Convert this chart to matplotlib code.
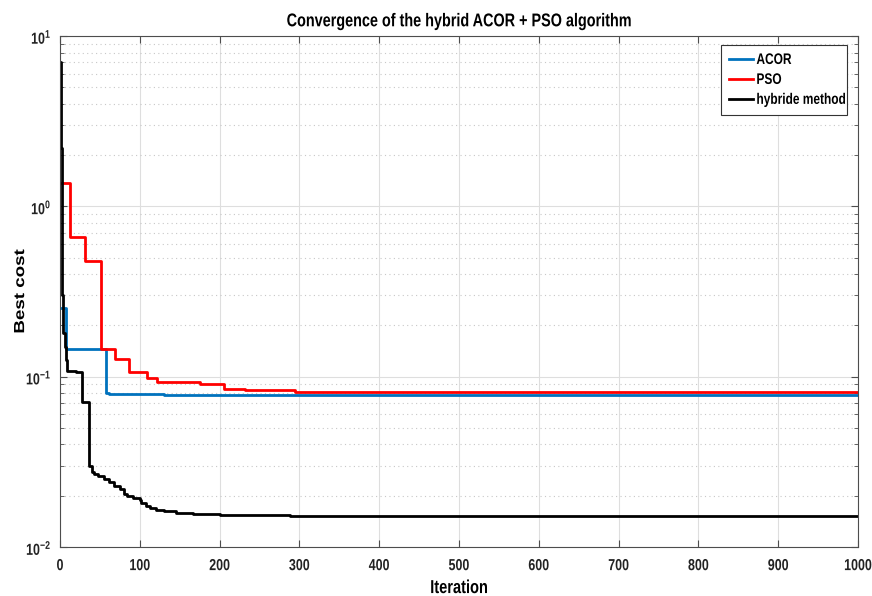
import matplotlib
matplotlib.use("Agg")
import matplotlib.pyplot as plt
from matplotlib.ticker import LogLocator, NullFormatter
from matplotlib.patheffects import AbstractPathEffect
from matplotlib.transforms import Affine2D
import numpy as np

# step-change points (iteration, best cost)
acor_iter = [0, 8, 58, 62, 70, 130, 1000]
acor_cost = [0.252, 0.146, 0.0807, 0.0795, 0.0788, 0.0785, 0.0785]

pso_iter = [0, 12, 31, 51, 69, 86, 109, 122, 175, 206, 232, 295, 1000]
pso_cost = [1.38, 0.66, 0.48, 0.146, 0.127, 0.106, 0.098, 0.093, 0.090, 0.0845, 0.0835, 0.0812, 0.0812]

hyb_iter = [0, 1, 2, 3, 4, 6, 8, 9, 20, 27, 36, 40, 42, 48, 55, 62, 68, 75, 80, 84, 92, 100, 102,
            108, 113, 120, 130, 145, 167, 200, 288, 1000]
hyb_cost = [7.0, 2.2, 0.6, 0.3, 0.18, 0.15, 0.126, 0.108, 0.106, 0.0714, 0.0297, 0.0275, 0.0268,
            0.0262, 0.0252, 0.0240, 0.0228, 0.0220, 0.0205, 0.0198, 0.0193, 0.0189, 0.0181,
            0.0175, 0.0169, 0.0165, 0.0162, 0.0159, 0.0156, 0.0154, 0.0153, 0.0152]

x_ticks = list(range(0, 1001, 100))

SQ = 0.78  # horizontal squash of text seen in the reference


class Squash(AbstractPathEffect):
    def __init__(self, fx=1.0, fy=1.0, anchor='center'):
        super().__init__()
        self.fx, self.fy, self.anchor = fx, fy, anchor

    def draw_path(self, renderer, gc, tpath, affine, rgbFace=None):
        ext = tpath.get_extents()
        if self.anchor == 'center':
            cx = (ext.x0 + ext.x1) / 2
        elif self.anchor == 'right':
            cx = ext.x1
        else:
            cx = 0.0
        t = Affine2D().translate(-cx, 0).scale(self.fx, self.fy).translate(cx, 0) + affine
        renderer.draw_path(gc, tpath, t, rgbFace)


plt.rcParams['font.family'] = ['Liberation Sans', 'DejaVu Sans']
plt.rcParams['mathtext.fontset'] = 'custom'
plt.rcParams['mathtext.rm'] = 'Liberation Sans:bold'
plt.rcParams['mathtext.it'] = 'Liberation Sans:bold'
plt.rcParams['mathtext.bf'] = 'Liberation Sans:bold'

fig = plt.figure(figsize=(8.72, 5.96), dpi=100)
ax = fig.add_axes([60/872, 1-547/596, (858-60)/872, (547-36)/596])

lw = 2.0
ax.plot(acor_iter, acor_cost, drawstyle='steps-post', color='#0072BD', lw=lw, label='ACOR')
ax.plot(pso_iter, pso_cost, drawstyle='steps-post', color='#FF0000', lw=lw, label='PSO')
ax.plot(hyb_iter, hyb_cost, drawstyle='steps-post', color='black', lw=lw, label='hybride method')

ax.set_yscale('log')
ax.set_xlim(0, 1000)
ax.set_ylim(1e-2, 1e1)
ax.set_xticks(x_ticks)
ax.yaxis.set_major_locator(LogLocator(base=10, numticks=10))
ax.yaxis.set_minor_locator(LogLocator(base=10, subs=np.arange(2, 10), numticks=20))
ax.yaxis.set_minor_formatter(NullFormatter())

ax.grid(True, which='major', color='#dedede', lw=0.8, ls='-')
ax.grid(True, which='minor', axis='y', color='#c8c8c8', lw=0.8, ls=(0, (1, 3)))
ax.set_axisbelow(True)

spine_c = '#4d4d4d'
for s in ax.spines.values():
    s.set_color(spine_c)
    s.set_linewidth(0.8)
ax.tick_params(which='both', direction='in', top=True, right=True, colors=spine_c,
               labelcolor='#222222', labelsize=11.5)
ax.tick_params(which='major', length=5)
ax.tick_params(which='minor', length=3)
ax.tick_params(axis='x', pad=8)
ax.tick_params(axis='y', pad=6)

t = ax.set_title('Convergence of the hybrid ACOR + PSO algorithm', fontsize=13.3,
                 fontweight='bold', pad=7)
t.set_path_effects([Squash(SQ, 1, 'center')])
xl = ax.set_xlabel('Iteration', fontsize=13.5, fontweight='bold', labelpad=5)
xl.set_path_effects([Squash(SQ, 1, 'center')])
yl = ax.set_ylabel('Best cost', fontsize=13.5, fontweight='bold')
yl.set_path_effects([Squash(1, SQ, 'center')])
ax.yaxis.set_label_coords(-0.040, 0.5)

fig.canvas.draw()
for lab in ax.get_xticklabels():
    lab.set_fontweight('bold')
    lab.set_path_effects([Squash(SQ, 1, 'center')])
for lab in ax.get_yticklabels():
    lab.set_fontweight('bold')
    lab.set_path_effects([Squash(SQ, 1, 'right')])

# legend box: x 721..847 px, top 45 px
lx0 = (721 - 60) / 798
lx1 = (847 - 60) / 798
ltop = 1 - (45 - 36) / 511
leg = ax.legend(loc='upper right', bbox_to_anchor=(lx0, 0.5, lx1 - lx0, ltop - 0.5),
                mode='expand', borderaxespad=0, fancybox=False, framealpha=1,
                edgecolor='#333333', handlelength=1.6, handletextpad=0.2, borderpad=0.52,
                labelspacing=0.39, prop={'weight': 'bold', 'size': 11})
leg.get_frame().set_linewidth(0.8)
for txt in leg.get_texts():
    txt.set_path_effects([Squash(SQ, 1, 'left')])

fig.savefig('out.png', dpi=100)
